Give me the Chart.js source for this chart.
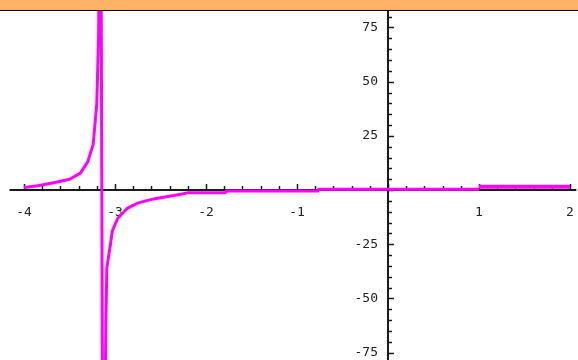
<!DOCTYPE html>
<html>
<head>
<meta charset="utf-8">
<script src="https://cdn.jsdelivr.net/npm/chart.js@4"></script>
<style>
body { margin: 0; background: #fff; overflow: hidden; }
#band { height: 10px; background: #ffb366; border-bottom: 1px solid #000; }
canvas { display: block; }
</style>
</head>
<body>
<div id="band"></div>
<canvas id="plot" width="578" height="349"></canvas>
<script>
// curve sampled around the pole near x = -3.15
const curveX = [-4.0, -3.85, -3.66, -3.5, -3.38, -3.3, -3.24, -3.2, -3.18, -3.16,
                -3.13, -3.1, -3.09, -3.05, -3.03, -2.97, -2.86, -2.75, -2.59, -2.45,
                -2.26, -2.2, -1.79, -1.77, -0.77, -0.76, 1.0];
const curveY = [1.2, 2.0, 3.5, 5.0, 7.8, 13, 21, 40, 72, 200,
                -200, -60, -36, -25, -19, -13, -8.3, -6.0, -4.2, -3.2,
                -1.8, -1.2, -1.2, -0.4, -0.4, 0.4, 0.4];
// flat piece on [1, 2]
const tailX = [1.0, 2.0];
const tailY = [1.5, 1.5];

const xLabels = [-4, -3, -2, -1, 1, 2];
const yLabels = [-75, -50, -25, 25, 50, 75];
const xMinorStep = 0.2;
const yMinorStep = 5;

const lineColor = '#ff00ff';
const tickFont = { family: 'DejaVu Sans Mono', size: 13 };

function toPoints(xs, ys) {
    return xs.map((x, i) => ({ x: x, y: ys[i] }));
}

// axis lines, small tick marks and the y labels, drawn under the curve
const axesPlugin = {
    id: 'axes',
    beforeDatasetsDraw(chart) {
        const ctx = chart.ctx;
        const xs = chart.scales.x;
        const ys = chart.scales.y;
        const x0 = Math.round(xs.getPixelForValue(0));
        const y0 = Math.round(ys.getPixelForValue(0));
        ctx.save();
        ctx.strokeStyle = '#1a1a1a';
        ctx.lineWidth = 2;
        ctx.beginPath();
        ctx.moveTo(xs.getPixelForValue(-4.16), y0);
        ctx.lineTo(xs.getPixelForValue(2.07), y0);
        ctx.moveTo(x0, 0);
        ctx.lineTo(x0, chart.height);
        ctx.stroke();

        ctx.lineWidth = 1.5;
        ctx.beginPath();
        for (let v = -4; v <= 2.001; v += xMinorStep) {
            const px = Math.round(xs.getPixelForValue(v)) + 0.5;
            const len = Math.abs(v - Math.round(v)) < 0.01 ? 6 : 4;
            ctx.moveTo(px, y0);
            ctx.lineTo(px, y0 - len);
        }
        for (let v = -80; v <= 80; v += yMinorStep) {
            const py = Math.round(ys.getPixelForValue(v)) + 0.5;
            const len = v % 25 === 0 ? 6 : 4;
            ctx.moveTo(x0, py);
            ctx.lineTo(x0 + len, py);
        }
        ctx.stroke();

        ctx.fillStyle = '#222';
        ctx.font = tickFont.size + 'px "' + tickFont.family + '"';
        ctx.textAlign = 'right';
        ctx.textBaseline = 'middle';
        yLabels.forEach(v => {
            ctx.fillText(String(v), x0 - 10, ys.getPixelForValue(v));
        });
        ctx.restore();
    }
};

// keep the plot area at the full canvas size
function noPadding(scale) {
    scale.paddingTop = 0;
    scale.paddingBottom = 0;
    scale.paddingLeft = 0;
    scale.paddingRight = 0;
}

new Chart(document.getElementById('plot').getContext('2d'), {
    type: 'line',
    data: {
        datasets: [{
            data: toPoints(curveX, curveY),
            borderColor: lineColor,
            borderWidth: 3,
            pointRadius: 0,
            tension: 0,
            fill: false
        }, {
            data: toPoints(tailX, tailY),
            borderColor: lineColor,
            borderWidth: 4,
            pointRadius: 0,
            tension: 0,
            fill: false
        }]
    },
    options: {
        responsive: false,
        animation: false,
        layout: { padding: 0 },
        plugins: {
            legend: { display: false },
            tooltip: { enabled: false }
        },
        scales: {
            x: {
                type: 'linear',
                min: -4.264,
                max: 2.088,
                position: { y: 0 },
                grid: { display: false, drawTicks: false },
                border: { display: false },
                afterFit: noPadding,
                afterBuildTicks: scale => {
                    scale.ticks = xLabels.map(v => ({ value: v }));
                },
                ticks: {
                    color: '#222',
                    font: tickFont,
                    padding: 15,
                    maxRotation: 0,
                    autoSkip: false
                }
            },
            y: {
                type: 'linear',
                min: -78.4,
                max: 82.6,
                position: { x: 0 },
                grid: { display: false, drawTicks: false },
                border: { display: false },
                afterFit: noPadding,
                ticks: { display: false }
            }
        }
    },
    plugins: [axesPlugin]
});
</script>
</body>
</html>
